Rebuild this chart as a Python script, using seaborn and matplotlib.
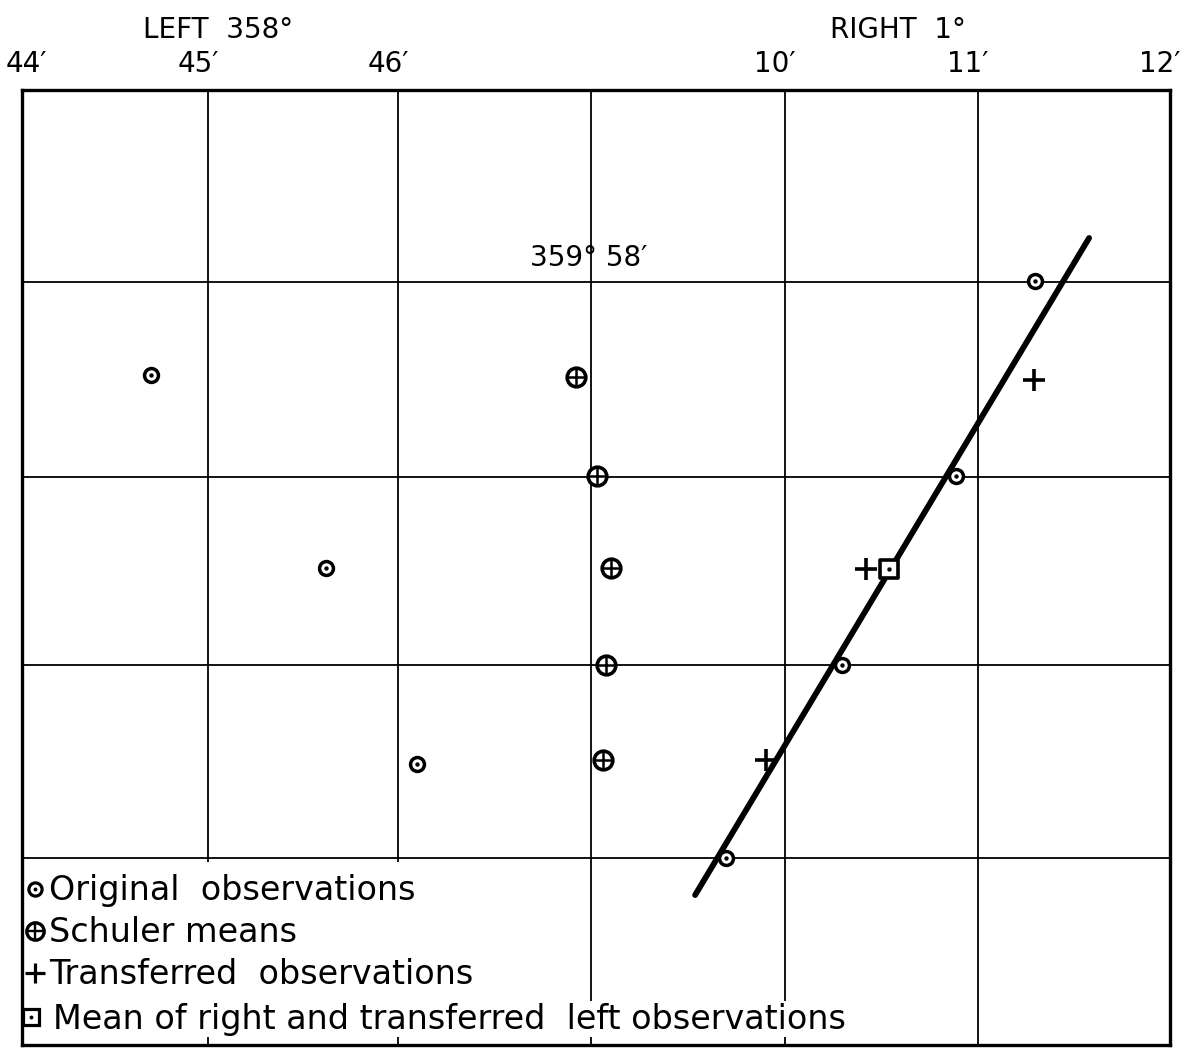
import matplotlib
matplotlib.use("Agg")
import matplotlib.pyplot as plt
import matplotlib.transforms as mtransforms
from matplotlib.lines import Line2D
from matplotlib.legend_handler import HandlerTuple
import seaborn as sns

# ---------------- data (grid units: x = arc-minute columns, y = rows from top) -------------
tick_labels = ["44′", "45′", "46′", "", "10′", "11′", "12′"]
grid_x = [0.0, 0.973, 1.966, 2.975, 3.988, 4.997, 6.0]
grid_y = [0.0, 1.005, 2.026, 3.01, 4.021, 5.0]

orig_x = [0.673, 1.587, 2.063, 5.293, 4.882, 4.286, 3.680]
orig_y = [1.49, 2.50, 3.53, 1.0, 2.02, 3.01, 4.02]

schuler_x = [2.896, 3.007, 3.077, 3.052, 3.038]
schuler_y = [1.5, 2.02, 2.5, 3.01, 3.51]

transf_x = [5.289, 4.411, 3.889]
transf_y = [1.52, 2.51, 3.51]

mean_x = [4.531]
mean_y = [2.51]

line_x = [3.518, 5.577]
line_y = [4.215, 0.775]

legend_labels = ["Original  observations", "Schuler means",
                 "Transferred  observations",
                 "Mean of right and transferred  left observations"]

# ---------------- style ----------------
sns.set_style("white")
plt.rcParams["font.family"] = ["DejaVu Sans"]
plt.rcParams["text.color"] = "black"
plt.rcParams["xtick.color"] = "black"
plt.rcParams["ytick.color"] = "black"

fig = plt.figure(figsize=(11.83, 10.5), dpi=100)
ax = fig.add_axes([22 / 1183, 5 / 1050, 1148 / 1183, 955 / 1050])

# fitted line
sns.lineplot(x=line_x, y=line_y, sort=False, estimator=None, color="black",
             linewidth=4.2, ax=ax, zorder=3)

# original observations: circle with centre dot
sns.scatterplot(x=orig_x, y=orig_y, marker="o", s=100, facecolor="white",
                edgecolor="black", linewidth=2.5, ax=ax, zorder=4)
sns.scatterplot(x=orig_x, y=orig_y, marker="o", s=10, color="black",
                edgecolor="black", linewidth=0, ax=ax, zorder=5)

# Schuler means: circle with cross
sns.scatterplot(x=schuler_x, y=schuler_y, marker="o", s=180, facecolor="white",
                edgecolor="black", linewidth=2.6, ax=ax, zorder=4)
sns.scatterplot(x=schuler_x, y=schuler_y, marker="+", s=180, color="black",
                linewidth=1.8, ax=ax, zorder=5)

# transferred observations: plus
sns.scatterplot(x=transf_x, y=transf_y, marker="+", s=260, color="black",
                linewidth=2.6, ax=ax, zorder=5)

# mean: square with dot
sns.scatterplot(x=mean_x, y=mean_y, marker="s", s=150, facecolor="white",
                edgecolor="black", linewidth=2.6, ax=ax, zorder=4)
sns.scatterplot(x=mean_x, y=mean_y, marker="o", s=10, color="black",
                linewidth=0, ax=ax, zorder=5)

# ---------------- axes / grid ----------------
ax.set_xlim(0, 6)
ax.set_ylim(5, 0)
ax.set_xticks(grid_x)
ax.set_xticklabels(tick_labels, fontsize=20)
ax.set_yticks(grid_y)
ax.set_yticklabels([])
ax.xaxis.tick_top()
ax.tick_params(axis="x", length=0, pad=9)
ax.tick_params(axis="y", length=0)
ax.grid(True, color="black", linewidth=1.3)
ax.set_axisbelow(True)
for sp in ax.spines.values():
    sp.set_visible(True)
    sp.set_color("black")
    sp.set_linewidth(2.4)
    sp.set_zorder(10)
ax.set_xlabel("")
ax.set_ylabel("")

offset = mtransforms.ScaledTranslation(-10 / 100, 0, fig.dpi_scale_trans)
for i, lab in enumerate(ax.get_xticklabels()):
    if i == 0:
        lab.set_transform(lab.get_transform() +
                          mtransforms.ScaledTranslation(4 / 100, 0, fig.dpi_scale_trans))
    else:
        lab.set_transform(lab.get_transform() + offset)

tr = ax.get_xaxis_transform()
ax.text(1.025, 1.063, "LEFT  358°", transform=tr, ha="center", va="center", fontsize=20)
ax.text(4.58, 1.063, "RIGHT  1°", transform=tr, ha="center", va="center", fontsize=20)
ax.text(2.96, 0.88, "359° 58′", ha="center", va="center", fontsize=20)

# ---------------- legend ----------------
def h_orig():
    return (Line2D([], [], marker="o", ms=9.5, mfc="white", mec="black", mew=2.3, ls=""),
            Line2D([], [], marker="o", ms=2.8, mfc="black", mec="black", mew=0, ls=""))

def h_schuler():
    return (Line2D([], [], marker="o", ms=12.5, mfc="white", mec="black", mew=2.4, ls=""),
            Line2D([], [], marker="+", ms=12.5, mec="black", mew=1.7, ls=""))

def h_transf():
    return Line2D([], [], marker="+", ms=14, mec="black", mew=2.3, ls="")

def h_mean():
    return (Line2D([], [], marker="s", ms=11, mfc="white", mec="black", mew=2.3, ls=""),
            Line2D([], [], marker="o", ms=2.8, mfc="black", mec="black", mew=0, ls=""))

hmap = {tuple: HandlerTuple(ndivide=1, pad=0)}
common = dict(borderaxespad=0, fontsize=24, frameon=True, facecolor="white",
              edgecolor="none", framealpha=1, fancybox=False, handlelength=0.43,
              handler_map=hmap)
leg1 = ax.legend([h_orig(), h_schuler(), h_transf()], legend_labels[:3],
                 loc="upper left", bbox_to_anchor=(-0.006, 0.192),
                 labelspacing=0.27, borderpad=0.38, handletextpad=0.22, **common)
ax.add_artist(leg1)
leg2 = ax.legend([h_mean()], legend_labels[3:],
                 loc="lower left", bbox_to_anchor=(0.0, 0.008),
                 borderpad=0.05, handletextpad=0.45, **common)

fig.savefig("out.png", dpi=100)
